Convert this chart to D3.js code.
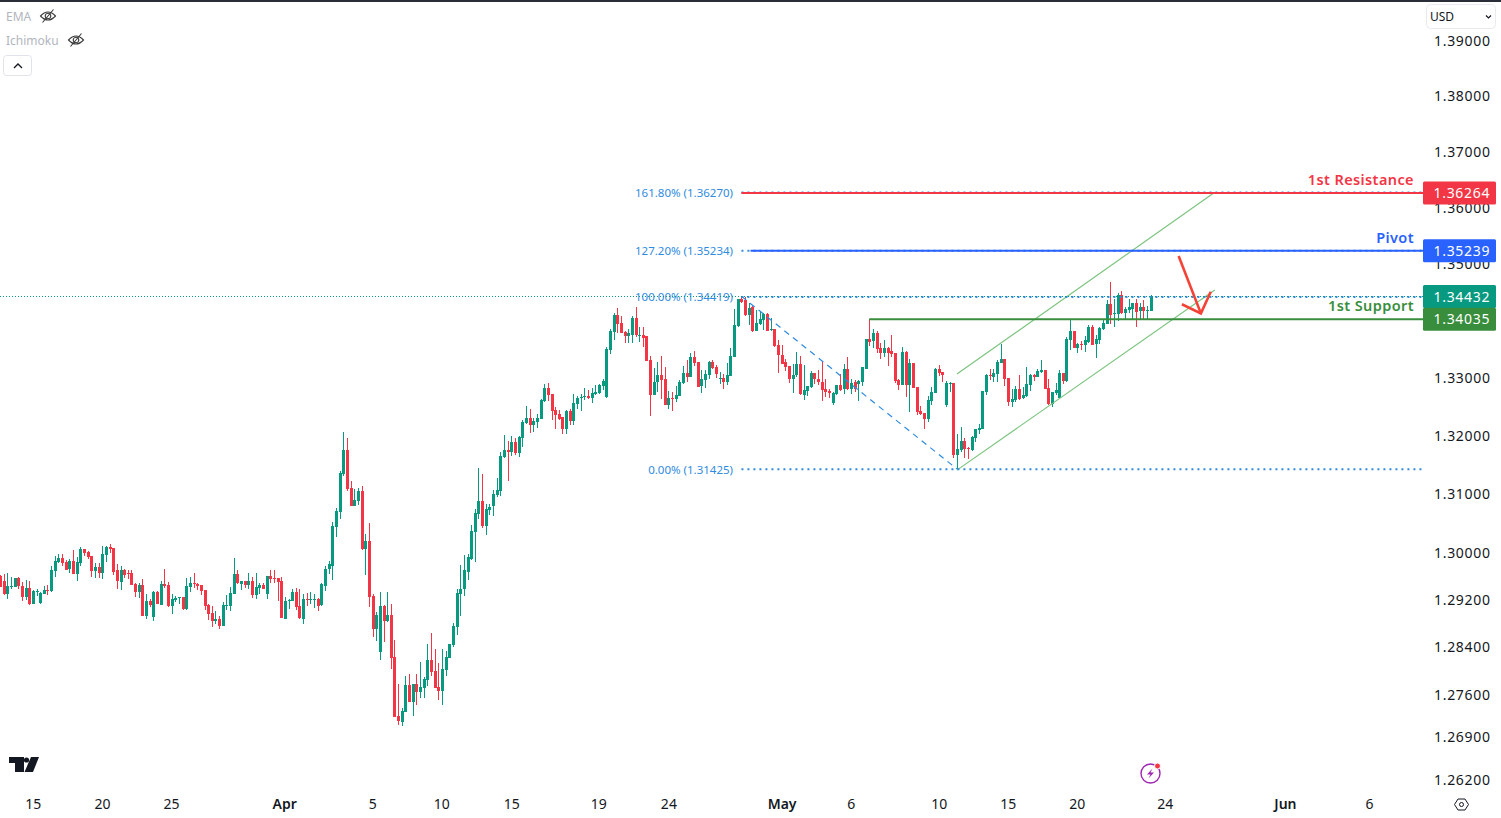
<!DOCTYPE html>
<html>
<head>
<meta charset="utf-8">
<script src="https://cdn.jsdelivr.net/npm/d3@7"></script>
<style>
html, body { margin: 0; padding: 0; background: #fff; }
svg { display: block; }
text { font-family: "Noto Sans", "Open Sans", sans-serif; }
</style>
</head>
<body>
<div id="chart"></div>
<script>
// candles, oldest first (4h GBPUSD)
var opens = [1.2959,1.2951,1.2929,1.2942,1.2941,1.2956,1.2943,1.2924,1.2939,1.2912,1.2933,1.2914,1.2929,1.2936,1.2933,1.2967,
1.2983,1.2990,1.2983,1.2970,1.2984,1.2962,1.2981,1.3005,1.3000,1.2993,1.2967,1.2974,1.2964,1.2995,1.3009,1.3007,
1.2969,1.2950,1.2970,1.2964,1.2964,1.2946,1.2933,1.2944,1.2892,1.2917,1.2890,1.2933,1.2910,1.2946,1.2944,1.2909,
1.2919,1.2923,1.2924,1.2904,1.2941,1.2948,1.2946,1.2944,1.2936,1.2910,1.2897,1.2883,1.2887,1.2875,1.2909,1.2909,
1.2929,1.2962,1.2946,1.2951,1.2944,1.2951,1.2927,1.2939,1.2944,1.2929,1.2960,1.2956,1.2956,1.2951,1.2887,1.2917,
1.2917,1.2933,1.2909,1.2888,1.2921,1.2919,1.2919,1.2921,1.2910,1.2944,1.2970,1.2977,1.3043,1.3068,1.3133,1.3174,
1.3109,1.3079,1.3087,1.3104,1.3005,1.3019,1.2926,1.2870,1.2831,1.2909,1.2883,1.2893,1.2823,1.2724,1.2715,1.2731,
1.2776,1.2748,1.2778,1.2764,1.2771,1.2784,1.2818,1.2799,1.2773,1.2766,1.2801,1.2821,1.2843,1.2873,1.2929,1.2936,
1.2965,1.2988,1.3034,1.3065,1.3087,1.3045,1.3072,1.3079,1.3097,1.3104,1.3162,1.3174,1.3171,1.3188,1.3169,1.3195,
1.3221,1.3230,1.3218,1.3223,1.3228,1.3259,1.3282,1.3271,1.3244,1.3237,1.3232,1.3211,1.3242,1.3225,1.3254,1.3264,
1.3266,1.3268,1.3264,1.3271,1.3273,1.3285,1.3266,1.3347,1.3379,1.3409,1.3395,1.3379,1.3372,1.3375,1.3404,1.3374,
1.3375,1.3372,1.3330,1.3270,1.3291,1.3304,1.3297,1.3252,1.3264,1.3263,1.3268,1.3291,1.3308,1.3301,1.3335,1.3327,
1.3284,1.3296,1.3304,1.3327,1.3318,1.3297,1.3299,1.3292,1.3303,1.3335,1.3389,1.3437,1.3435,1.3409,1.3423,1.3381,
1.3393,1.3400,1.3411,1.3382,1.3384,1.3356,1.3340,1.3327,1.3320,1.3297,1.3303,1.3323,1.3270,1.3276,1.3284,1.3308,
1.3297,1.3292,1.3280,1.3276,1.3256,1.3271,1.3287,1.3280,1.3315,1.3280,1.3292,1.3289,1.3292,1.3316,1.3368,1.3363,
1.3377,1.3351,1.3342,1.3351,1.3346,1.3342,1.3296,1.3287,1.3344,1.3287,1.3325,1.3284,1.3242,1.3239,1.3228,1.3259,
1.3273,1.3315,1.3309,1.3252,1.3289,1.3291,1.3166,1.3174,1.3190,1.3178,1.3174,1.3195,1.3209,1.3211,1.3275,1.3304,
1.3301,1.3306,1.3325,1.3332,1.3299,1.3257,1.3261,1.3280,1.3264,1.3268,1.3287,1.3304,1.3301,1.3309,1.3313,1.3282,
1.3254,1.3273,1.3264,1.3308,1.3294,1.3365,1.3381,1.3351,1.3358,1.3356,1.3363,1.3389,1.3358,1.3365,1.3384,1.3393,
1.3428,1.3411,1.3411,1.3444,1.3412,1.3418,1.3421,1.3431,1.3416,1.3423,1.3416,1.3416];
var highs = [1.2961,1.2963,1.2965,1.2957,1.2956,1.2957,1.2949,1.2953,1.2951,1.2936,1.2938,1.2933,1.2943,1.2944,1.2976,1.2993,
1.2996,1.2997,1.2986,1.2988,1.3003,1.2991,1.3009,1.3005,1.3002,1.2993,1.2981,1.2981,1.3011,1.3011,1.3014,1.3007,
1.2979,1.2977,1.2972,1.2970,1.2969,1.2948,1.2948,1.2955,1.2929,1.2921,1.2934,1.2934,1.2951,1.2972,1.2949,1.2929,
1.2926,1.2924,1.2924,1.2956,1.2958,1.2965,1.2948,1.2944,1.2936,1.2912,1.2909,1.2900,1.2892,1.2916,1.2927,1.2941,
1.2990,1.2970,1.2951,1.2951,1.2965,1.2958,1.2965,1.2948,1.2948,1.2960,1.2970,1.2970,1.2956,1.2958,1.2924,1.2921,
1.2938,1.2939,1.2938,1.2929,1.2931,1.2933,1.2929,1.2922,1.2948,1.2977,1.2984,1.3052,1.3075,1.3138,1.3206,1.3195,
1.3121,1.3107,1.3109,1.3113,1.3031,1.3050,1.2929,1.2899,1.2933,1.2910,1.2933,1.2912,1.2851,1.2778,1.2738,1.2791,
1.2794,1.2778,1.2794,1.2814,1.2789,1.2845,1.2863,1.2836,1.2813,1.2836,1.2833,1.2845,1.2880,1.2938,1.2978,1.2995,
1.2997,1.3046,1.3074,1.3143,1.3133,1.3082,1.3082,1.3106,1.3126,1.3172,1.3200,1.3190,1.3198,1.3195,1.3198,1.3226,
1.3251,1.3246,1.3230,1.3237,1.3263,1.3289,1.3291,1.3271,1.3249,1.3244,1.3232,1.3244,1.3246,1.3271,1.3268,1.3271,
1.3282,1.3278,1.3282,1.3287,1.3289,1.3297,1.3354,1.3384,1.3412,1.3421,1.3407,1.3382,1.3384,1.3407,1.3423,1.3388,
1.3389,1.3372,1.3337,1.3316,1.3327,1.3337,1.3318,1.3276,1.3275,1.3285,1.3296,1.3320,1.3330,1.3342,1.3347,1.3327,
1.3313,1.3313,1.3328,1.3330,1.3321,1.3309,1.3306,1.3325,1.3352,1.3419,1.3438,1.3442,1.3440,1.3430,1.3425,1.3418,
1.3416,1.3412,1.3412,1.3404,1.3384,1.3365,1.3356,1.3332,1.3320,1.3323,1.3344,1.3337,1.3321,1.3285,1.3311,1.3308,
1.3313,1.3328,1.3297,1.3280,1.3275,1.3287,1.3306,1.3323,1.3335,1.3297,1.3296,1.3296,1.3318,1.3368,1.3402,1.3384,
1.3381,1.3360,1.3365,1.3354,1.3375,1.3342,1.3297,1.3354,1.3346,1.3332,1.3325,1.3284,1.3251,1.3239,1.3268,1.3284,
1.3316,1.3321,1.3309,1.3294,1.3292,1.3291,1.3202,1.3214,1.3195,1.3180,1.3198,1.3211,1.3219,1.3276,1.3306,1.3315,
1.3315,1.3330,1.3358,1.3332,1.3299,1.3280,1.3285,1.3304,1.3284,1.3318,1.3306,1.3306,1.3315,1.3330,1.3313,1.3297,
1.3275,1.3291,1.3313,1.3308,1.3370,1.3402,1.3381,1.3361,1.3363,1.3372,1.3391,1.3391,1.3374,1.3388,1.3402,1.3435,
1.3467,1.3437,1.3447,1.3451,1.3423,1.3438,1.3431,1.3438,1.3431,1.3435,1.3425,1.3444];
var lows = [1.2941,1.2927,1.2921,1.2936,1.2940,1.2936,1.2917,1.2919,1.2910,1.2912,1.2926,1.2912,1.2929,1.2927,1.2932,1.2958,
1.2981,1.2976,1.2969,1.2965,1.2962,1.2951,1.2976,1.2993,1.2988,1.2958,1.2956,1.2955,1.2955,1.2983,1.2998,1.2961,
1.2936,1.2936,1.2956,1.2955,1.2944,1.2924,1.2922,1.2892,1.2887,1.2907,1.2883,1.2912,1.2910,1.2939,1.2907,1.2895,
1.2916,1.2912,1.2902,1.2902,1.2933,1.2939,1.2936,1.2927,1.2902,1.2885,1.2873,1.2878,1.2870,1.2875,1.2902,1.2900,
1.2929,1.2946,1.2936,1.2939,1.2938,1.2922,1.2921,1.2929,1.2938,1.2921,1.2948,1.2948,1.2917,1.2888,1.2887,1.2904,
1.2917,1.2902,1.2888,1.2878,1.2909,1.2912,1.2905,1.2900,1.2909,1.2934,1.2962,1.2953,1.3026,1.3055,1.3130,1.3104,
1.3079,1.3079,1.3080,1.3003,1.2961,1.2907,1.2856,1.2851,1.2818,1.2848,1.2883,1.2803,1.2723,1.2710,1.2708,1.2731,
1.2748,1.2724,1.2743,1.2754,1.2754,1.2774,1.2791,1.2771,1.2751,1.2743,1.2791,1.2821,1.2839,1.2860,1.2892,1.2926,
1.2953,1.2986,1.2984,1.3055,1.3040,1.3029,1.3063,1.3062,1.3094,1.3096,1.3160,1.3121,1.3164,1.3166,1.3162,1.3180,
1.3219,1.3204,1.3206,1.3213,1.3228,1.3257,1.3259,1.3226,1.3211,1.3226,1.3202,1.3202,1.3218,1.3218,1.3246,1.3242,
1.3261,1.3263,1.3256,1.3270,1.3271,1.3278,1.3266,1.3340,1.3365,1.3377,1.3377,1.3361,1.3360,1.3360,1.3370,1.3361,
1.3354,1.3328,1.3232,1.3270,1.3275,1.3263,1.3252,1.3244,1.3242,1.3257,1.3268,1.3289,1.3291,1.3301,1.3320,1.3284,
1.3273,1.3282,1.3297,1.3315,1.3299,1.3289,1.3280,1.3287,1.3303,1.3335,1.3389,1.3430,1.3407,1.3391,1.3379,1.3381,
1.3391,1.3382,1.3381,1.3381,1.3352,1.3308,1.3325,1.3311,1.3291,1.3273,1.3301,1.3270,1.3261,1.3268,1.3282,1.3289,
1.3287,1.3259,1.3266,1.3264,1.3252,1.3270,1.3276,1.3270,1.3278,1.3271,1.3276,1.3259,1.3285,1.3316,1.3354,1.3351,
1.3342,1.3332,1.3335,1.3321,1.3337,1.3289,1.3278,1.3287,1.3266,1.3240,1.3282,1.3235,1.3235,1.3211,1.3223,1.3252,
1.3273,1.3301,1.3292,1.3249,1.3275,1.3162,1.3142,1.3171,1.3160,1.3160,1.3172,1.3188,1.3202,1.3211,1.3270,1.3296,
1.3292,1.3291,1.3325,1.3285,1.3251,1.3249,1.3257,1.3261,1.3263,1.3266,1.3276,1.3294,1.3301,1.3308,1.3280,1.3252,
1.3249,1.3270,1.3264,1.3289,1.3291,1.3347,1.3351,1.3344,1.3347,1.3344,1.3360,1.3358,1.3333,1.3358,1.3382,1.3393,
1.3393,1.3388,1.3398,1.3411,1.3402,1.3414,1.3402,1.3389,1.3402,1.3402,1.3402,1.3416];
var closes = [1.2941,1.2929,1.2943,1.2943,1.2956,1.2942,1.2924,1.2939,1.2912,1.2934,1.2934,1.2931,1.2936,1.2935,1.2969,1.2984,
1.2990,1.2981,1.2970,1.2984,1.2962,1.2983,1.3005,1.2998,1.2991,1.2967,1.2974,1.2964,1.2997,1.3009,1.3005,1.2967,
1.2950,1.2970,1.2962,1.2962,1.2944,1.2933,1.2944,1.2892,1.2917,1.2910,1.2933,1.2912,1.2946,1.2943,1.2909,1.2921,
1.2922,1.2924,1.2904,1.2943,1.2948,1.2947,1.2943,1.2934,1.2909,1.2895,1.2883,1.2887,1.2875,1.2910,1.2910,1.2931,
1.2962,1.2946,1.2951,1.2944,1.2951,1.2927,1.2941,1.2944,1.2938,1.2960,1.2955,1.2955,1.2950,1.2888,1.2917,1.2919,
1.2933,1.2907,1.2888,1.2921,1.2919,1.2921,1.2921,1.2910,1.2946,1.2972,1.2979,1.3045,1.3070,1.3135,1.3174,1.3107,
1.3079,1.3089,1.3104,1.3005,1.3019,1.2924,1.2870,1.2893,1.2909,1.2883,1.2893,1.2821,1.2723,1.2715,1.2733,1.2776,
1.2748,1.2778,1.2764,1.2773,1.2786,1.2818,1.2798,1.2771,1.2766,1.2803,1.2823,1.2845,1.2875,1.2931,1.2938,1.2969,
1.2991,1.3036,1.3067,1.3087,1.3045,1.3074,1.3077,1.3099,1.3106,1.3164,1.3174,1.3171,1.3188,1.3169,1.3197,1.3223,
1.3230,1.3218,1.3225,1.3230,1.3261,1.3282,1.3270,1.3242,1.3235,1.3228,1.3211,1.3242,1.3225,1.3256,1.3264,1.3266,
1.3268,1.3264,1.3273,1.3275,1.3287,1.3294,1.3349,1.3381,1.3409,1.3393,1.3377,1.3372,1.3377,1.3404,1.3374,1.3375,
1.3370,1.3328,1.3270,1.3292,1.3304,1.3296,1.3252,1.3264,1.3263,1.3270,1.3292,1.3308,1.3301,1.3335,1.3325,1.3284,
1.3297,1.3306,1.3327,1.3316,1.3306,1.3299,1.3292,1.3304,1.3337,1.3391,1.3437,1.3431,1.3409,1.3421,1.3381,1.3395,
1.3402,1.3411,1.3381,1.3384,1.3354,1.3339,1.3325,1.3318,1.3297,1.3304,1.3323,1.3270,1.3278,1.3285,1.3308,1.3297,
1.3291,1.3278,1.3275,1.3273,1.3273,1.3287,1.3278,1.3315,1.3280,1.3291,1.3280,1.3294,1.3318,1.3368,1.3363,1.3377,
1.3349,1.3342,1.3351,1.3342,1.3340,1.3294,1.3287,1.3344,1.3287,1.3325,1.3282,1.3240,1.3237,1.3228,1.3261,1.3275,
1.3315,1.3308,1.3303,1.3291,1.3291,1.3166,1.3176,1.3190,1.3176,1.3176,1.3197,1.3211,1.3213,1.3276,1.3304,1.3303,
1.3308,1.3327,1.3332,1.3297,1.3257,1.3263,1.3280,1.3263,1.3270,1.3289,1.3304,1.3301,1.3311,1.3313,1.3280,1.3254,
1.3275,1.3278,1.3308,1.3294,1.3367,1.3381,1.3351,1.3358,1.3356,1.3365,1.3389,1.3358,1.3367,1.3386,1.3395,1.3428,
1.3409,1.3412,1.3444,1.3412,1.3419,1.3423,1.3431,1.3416,1.3423,1.3416,1.3418,1.3443];

var priceTicks = [1.39,1.38,1.37,1.36,1.35,1.34,1.33,1.32,1.31,1.30,1.292,1.284,1.276,1.269,1.262];

var timeLabels = ["15","20","25","Apr","5","10","15","19","24","May","6","10","15","20","24","Jun","6"];
var timeBars = [9,27.9,46.8,77.8,101.9,120.8,140,163.8,183,214,232.9,257,275.9,294.8,318.9,351.8,374.8];
var boldLabels = ["Apr","May","Jun"];

// levels on the right: name, price tag, colour
var levelNames = ["1st Resistance","Pivot","1st Support"];
var levelPrices = [1.36264,1.35239,1.34035];
var levelColors = ["#f23645","#2962ff","#388e3c"];
var levelStartBars = [203,205.5,238];
var lastPrice = 1.34432;

var fibLabels = ["161.80% (1.36270)","127.20% (1.35234)","100.00% (1.34419)","0.00% (1.31425)"];
var fibPrices = [1.3627,1.35234,1.34419,1.31425];

var channelLower = [[262,1.3140],[332.6,1.3453]];
var channelUpper = [[262,1.3306],[332.4,1.3625]];
var fibSwing = [[203,1.3442],[262,1.3142]];
var arrowShaft = [[322.7,1.3513],[328.8,1.3412]];
var arrowHead = [[323.6,1.3428],[328.8,1.3412],[331.5,1.3450]];

var width = 1501, height = 818;
var plotRight = 1423;
var fibColor = "#2f8be0";

var svg = d3.select("#chart").append("svg")
    .attr("width", width)
    .attr("height", height);

var x = d3.scaleLinear().domain([0, closes.length - 1]).range([0, 1150.5]);
var y = d3.scaleLog().domain([1.262, 1.39]).range([779, 40]);

// level lines and tags sit a pixel under the candle grid
function levelY(p) { return y(p) + 1; }

var line = d3.line().x(function(d) { return x(d[0]); }).y(function(d) { return y(d[1]); });

// top border
svg.append("rect").attr("width", width).attr("height", 2).attr("fill", "#2a2e39");

// price axis
var yAxis = svg.append("g")
    .attr("transform", "translate(1427,0.7)")
    .call(d3.axisRight(y).tickValues(priceTicks).tickFormat(d3.format(".5f")).tickSize(0).tickPadding(7));
yAxis.select(".domain").remove();
yAxis.selectAll("text")
    .style("font-size", "14px")
    .style("letter-spacing", "0.7px")
    .attr("fill", "#131722");

// time axis
var xAxis = svg.append("g")
    .attr("transform", "translate(0,796)")
    .call(d3.axisBottom(x)
        .tickValues(timeBars)
        .tickSize(0)
        .tickPadding(3)
        .tickFormat(function(d, i) { return timeLabels[i]; }));
xAxis.select(".domain").remove();
xAxis.selectAll("text")
    .style("font-size", "14px")
    .attr("fill", "#131722")
    .style("font-weight", function(d, i) { return boldLabels.indexOf(timeLabels[i]) >= 0 ? 600 : 400; });

// candles
var candles = svg.append("g").selectAll("g").data(closes).enter().append("g")
    .attr("fill", function(d, i) { return d >= opens[i] ? "#089981" : "#f23645"; });
candles.append("rect")
    .attr("x", function(d, i) { return Math.round(x(i)); })
    .attr("width", 1)
    .attr("y", function(d, i) { return Math.round(y(highs[i])); })
    .attr("height", function(d, i) { return Math.max(1, Math.round(y(lows[i]) - y(highs[i]))); });
candles.append("rect")
    .attr("x", function(d, i) { return Math.round(x(i)) - 1; })
    .attr("width", 3)
    .attr("y", function(d, i) { return Math.round(y(Math.max(d, opens[i]))); })
    .attr("height", function(d, i) { return Math.max(1, Math.round(Math.abs(y(d) - y(opens[i])))); });

// channel
svg.append("path").attr("d", line(channelLower)).attr("fill", "none").attr("stroke", "#7cc47f").attr("stroke-width", 1.2);
svg.append("path").attr("d", line(channelUpper)).attr("fill", "none").attr("stroke", "#7cc47f").attr("stroke-width", 1.2);

// fib swing and levels
svg.append("path").attr("d", line(fibSwing)).attr("fill", "none")
    .attr("stroke", fibColor).attr("stroke-width", 1.2).attr("stroke-dasharray", "6,5");
svg.selectAll(".fibline").data(fibPrices).enter().append("line")
    .attr("class", "fibline")
    .attr("x1", x(203)).attr("x2", plotRight)
    .attr("y1", function(d) { return levelY(d) - 0.3; }).attr("y2", function(d) { return levelY(d) - 0.3; })
    .attr("stroke", fibColor).attr("stroke-width", 2).attr("stroke-dasharray", "2,4");
svg.selectAll(".fiblabel").data(fibLabels).enter().append("text")
    .attr("class", "fiblabel")
    .attr("x", 733)
    .attr("y", function(d, i) { return levelY(fibPrices[i]) + 4; })
    .attr("text-anchor", "end")
    .attr("fill", fibColor)
    .style("font-size", "11.5px")
    .text(function(d) { return d; });

// last price line
svg.append("line")
    .attr("x1", 0).attr("x2", plotRight)
    .attr("y1", Math.round(y(lastPrice)) + 0.5).attr("y2", Math.round(y(lastPrice)) + 0.5)
    .attr("stroke", "#089981").attr("stroke-width", 1).attr("stroke-dasharray", "1,2");

// levels
svg.selectAll(".level").data(levelPrices).enter().append("line")
    .attr("class", "level")
    .attr("x1", function(d, i) { return x(levelStartBars[i]); })
    .attr("x2", plotRight)
    .attr("y1", function(d) { return levelY(d); }).attr("y2", function(d) { return levelY(d); })
    .attr("stroke", function(d, i) { return levelColors[i]; })
    .attr("stroke-width", 2);
svg.selectAll(".levelname").data(levelNames).enter().append("text")
    .attr("class", "levelname")
    .attr("x", 1414)
    .attr("y", function(d, i) { return levelY(levelPrices[i]) - 8; })
    .attr("text-anchor", "end")
    .attr("fill", function(d, i) { return levelColors[i]; })
    .style("font-size", "14.5px")
    .style("font-weight", 600)
    .style("letter-spacing", "0.4px")
    .text(function(d) { return d; });

// price tags
var tagPrices = [levelPrices[0], levelPrices[1], lastPrice, levelPrices[2]];
var tagColors = [levelColors[0], levelColors[1], "#089981", levelColors[2]];
var tags = svg.selectAll(".tag").data(tagPrices).enter().append("g").attr("class", "tag")
    .attr("transform", function(d) { return "translate(1423," + levelY(d) + ")"; });
tags.append("rect")
    .attr("y", -11.5).attr("width", 73).attr("height", 23).attr("rx", 1.5)
    .attr("fill", function(d, i) { return tagColors[i]; });
tags.append("text")
    .attr("x", 10.5).attr("y", 5)
    .attr("fill", "#fff")
    .style("font-size", "14px")
    .style("letter-spacing", "0.7px")
    .text(function(d) { return d3.format(".5f")(d); });

// hand drawn arrow
svg.append("path").attr("d", line(arrowShaft)).attr("fill", "none").attr("stroke", "#f44336").attr("stroke-width", 2.6);
svg.append("path").attr("d", line(arrowHead)).attr("fill", "none").attr("stroke", "#f44336").attr("stroke-width", 2.6);

// legend
function eye(cx, cy) {
    var g = svg.append("g").attr("transform", "translate(" + cx + "," + cy + ")")
        .attr("fill", "none").attr("stroke", "#3a3a3a").attr("stroke-width", 1.1);
    g.append("path").attr("d", "M-7.5,0 Q0,-8 7.5,0 Q0,8 -7.5,0Z");
    g.append("circle").attr("r", 2.8);
    g.append("path").attr("d", "M-5.5,6.5 L5.5,-6.5");
}
svg.append("text").attr("x", 6).attr("y", 20.5).attr("fill", "#b2b5be").style("font-size", "12px").text("EMA");
eye(48, 16);
svg.append("text").attr("x", 6).attr("y", 44.5).attr("fill", "#b2b5be").style("font-size", "12px").text("Ichimoku");
eye(76, 40);
svg.append("rect").attr("x", 3.5).attr("y", 55.5).attr("width", 28).attr("height", 20).attr("rx", 3)
    .attr("fill", "#fff").attr("stroke", "#e0e3eb");
svg.append("path").attr("d", "M14,68 L18,64 L22,68").attr("fill", "none").attr("stroke", "#131722").attr("stroke-width", 1.3);

// currency box
svg.append("rect").attr("x", 1426.5).attr("y", 4.5).attr("width", 69).attr("height", 24).attr("rx", 4)
    .attr("fill", "#fff").attr("stroke", "#e8eaf0");
svg.append("text").attr("x", 1430).attr("y", 21).attr("fill", "#131722").style("font-size", "12px").text("USD");
svg.append("path").attr("d", "M1486,15.5 L1488.5,18 L1491,15.5").attr("fill", "none").attr("stroke", "#131722").attr("stroke-width", 1.2);

// logo
var logo = svg.append("g").attr("transform", "translate(9,757)").attr("fill", "#131722");
logo.append("path").attr("d", "M0,0 H15 V15 H6 V6 H0 Z");
logo.append("circle").attr("cx", 17.5).attr("cy", 3).attr("r", 2.6);
logo.append("path").attr("d", "M22,0 H30 L24,15 H15.5 Z");

// bolt icon
var bolt = svg.append("g").attr("transform", "translate(1150.5,773.5)");
bolt.append("circle").attr("r", 9.5).attr("fill", "none").attr("stroke", "#9c27b0").attr("stroke-width", 1.4);
bolt.append("path").attr("d", "M2,-5 L-3.5,1 H0 L-2,5 L3.5,-1 H0 Z").attr("fill", "#9c27b0");
bolt.append("circle").attr("cx", 7).attr("cy", -7.5).attr("r", 3).attr("fill", "#f23645").attr("stroke", "#fff");

// settings icon
var gear = svg.append("g").attr("transform", "translate(1461.5,804.5)").attr("fill", "none").attr("stroke", "#131722");
gear.append("path").attr("d", "M-7,0 L-3.5,-5.5 H3.5 L7,0 L3.5,5.5 H-3.5 Z");
gear.append("circle").attr("r", 2);
</script>
</body>
</html>
